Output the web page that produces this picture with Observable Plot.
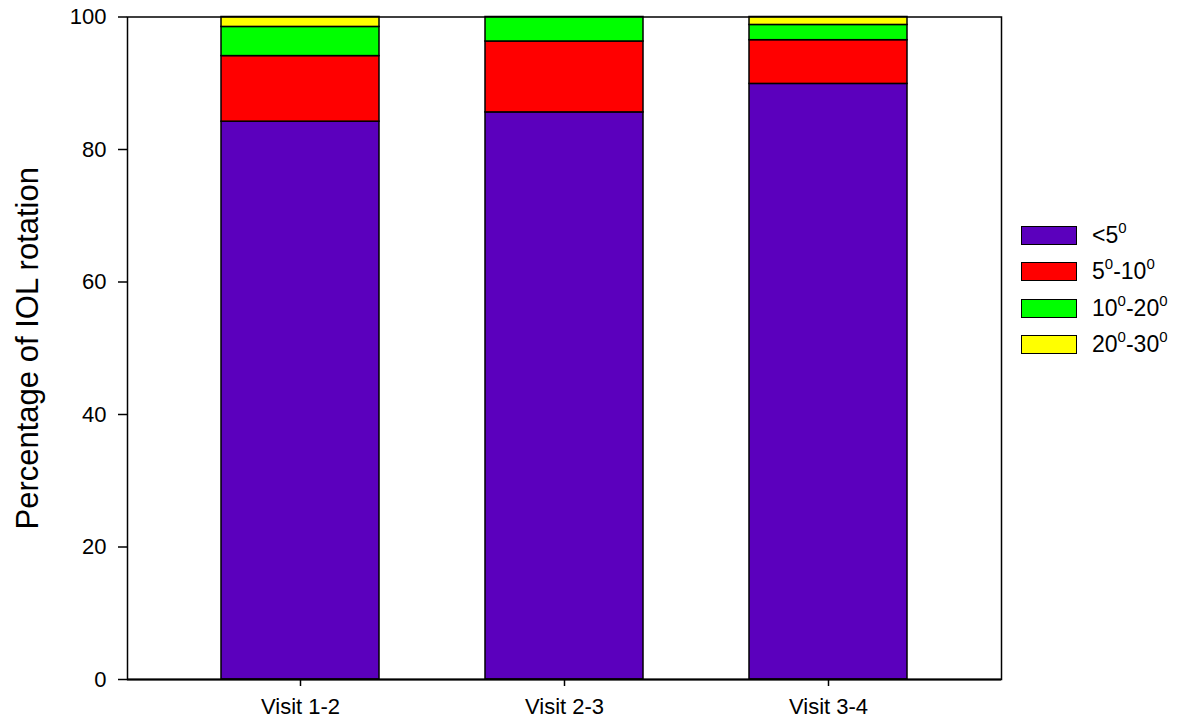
<!DOCTYPE html>
<html>
<head>
<meta charset="utf-8">
<script src="https://cdn.jsdelivr.net/npm/d3@7"></script>
<script src="https://cdn.jsdelivr.net/npm/@observablehq/plot@0.6"></script>
<style>
  body { margin: 0; background: #fff; font-family: "Liberation Sans", Arial, sans-serif; }
  #wrap { position: relative; width: 1183px; height: 724px; }
  #legend { position: absolute; left: 1021px; top: 226px; }
  .row { position: relative; height: 36.3px; }
  .sw { position: absolute; left: 0; top: 0; width: 54px; height: 17px; border: 1.5px solid #000; }
  .lb { position: absolute; left: 71px; top: -5px; font-size: 23px; line-height: 28px; color: #000; white-space: nowrap; }
  .lb sup { font-size: 15px; vertical-align: 0; position: relative; top: -10px; }
</style>
</head>
<body>
<div id="wrap">
  <div id="chart"></div>
  <div id="legend"></div>
</div>
<script>
const visits = ["Visit 1-2", "Visit 2-3", "Visit 3-4"];
const categories = ["<5", "5-10", "10-20", "20-30"];
const categoryLabels = ["&lt;5<sup>0</sup>", "5<sup>0</sup>-10<sup>0</sup>", "10<sup>0</sup>-20<sup>0</sup>", "20<sup>0</sup>-30<sup>0</sup>"];
const colors = ["#5b00bd", "#ff0000", "#00ff00", "#ffff00"];
const lt5 = [84.2, 85.6, 89.9];
const r5to10 = [9.9, 10.7, 6.6];
const r10to20 = [4.4, 3.7, 2.3];
const r20to30 = [1.5, 0, 1.2];
const yTicks = [0, 20, 40, 60, 80, 100];
const yTitle = "Percentage of IOL rotation";

const series = [lt5, r5to10, r10to20, r20to30];
const data = [];
categories.forEach((c, ci) => {
  visits.forEach((v, vi) => data.push({visit: v, cat: c, value: series[ci][vi]}));
});

const font = "'Liberation Sans', Arial, sans-serif";

const chart = Plot.plot({
  width: 1183,
  height: 724,
  marginLeft: 127,
  marginRight: 182,
  marginTop: 16.5,
  marginBottom: 45,
  style: { fontFamily: font, background: "#fff", color: "#000" },
  x: { domain: visits, paddingInner: 0.4, paddingOuter: 0.351, label: null },
  y: { domain: [0, 100], label: null },
  color: { domain: categories, range: colors },
  marks: [
    Plot.barY(data, Plot.stackY({x: "visit", y: "value", fill: "cat", stroke: "#000", strokeWidth: 1.5, order: null})),
    Plot.frame({stroke: "#000", strokeWidth: 1.5}),
    Plot.axisY({ticks: yTicks, tickSize: 9, tickPadding: 12, fontSize: 22, label: null, strokeWidth: 1.5}),
    Plot.axisX({tickSize: 7, tickPadding: 12, fontSize: 22, label: null, strokeWidth: 1.5}),
    Plot.ruleY([0], {stroke: "#000", strokeWidth: 2}),
    Plot.text([yTitle], {frameAnchor: "left", textAnchor: "middle", lineAnchor: "middle", rotate: -90, dx: -99, fontSize: 31, text: d => d, fill: "#000"})
  ]
});
document.getElementById("chart").appendChild(chart);

const legend = document.getElementById("legend");
categories.forEach((c, i) => {
  const row = document.createElement("div");
  row.className = "row";
  row.innerHTML = `<div class="sw" style="background:${colors[i]}"></div><div class="lb">${categoryLabels[i]}</div>`;
  legend.appendChild(row);
});
</script>
</body>
</html>
